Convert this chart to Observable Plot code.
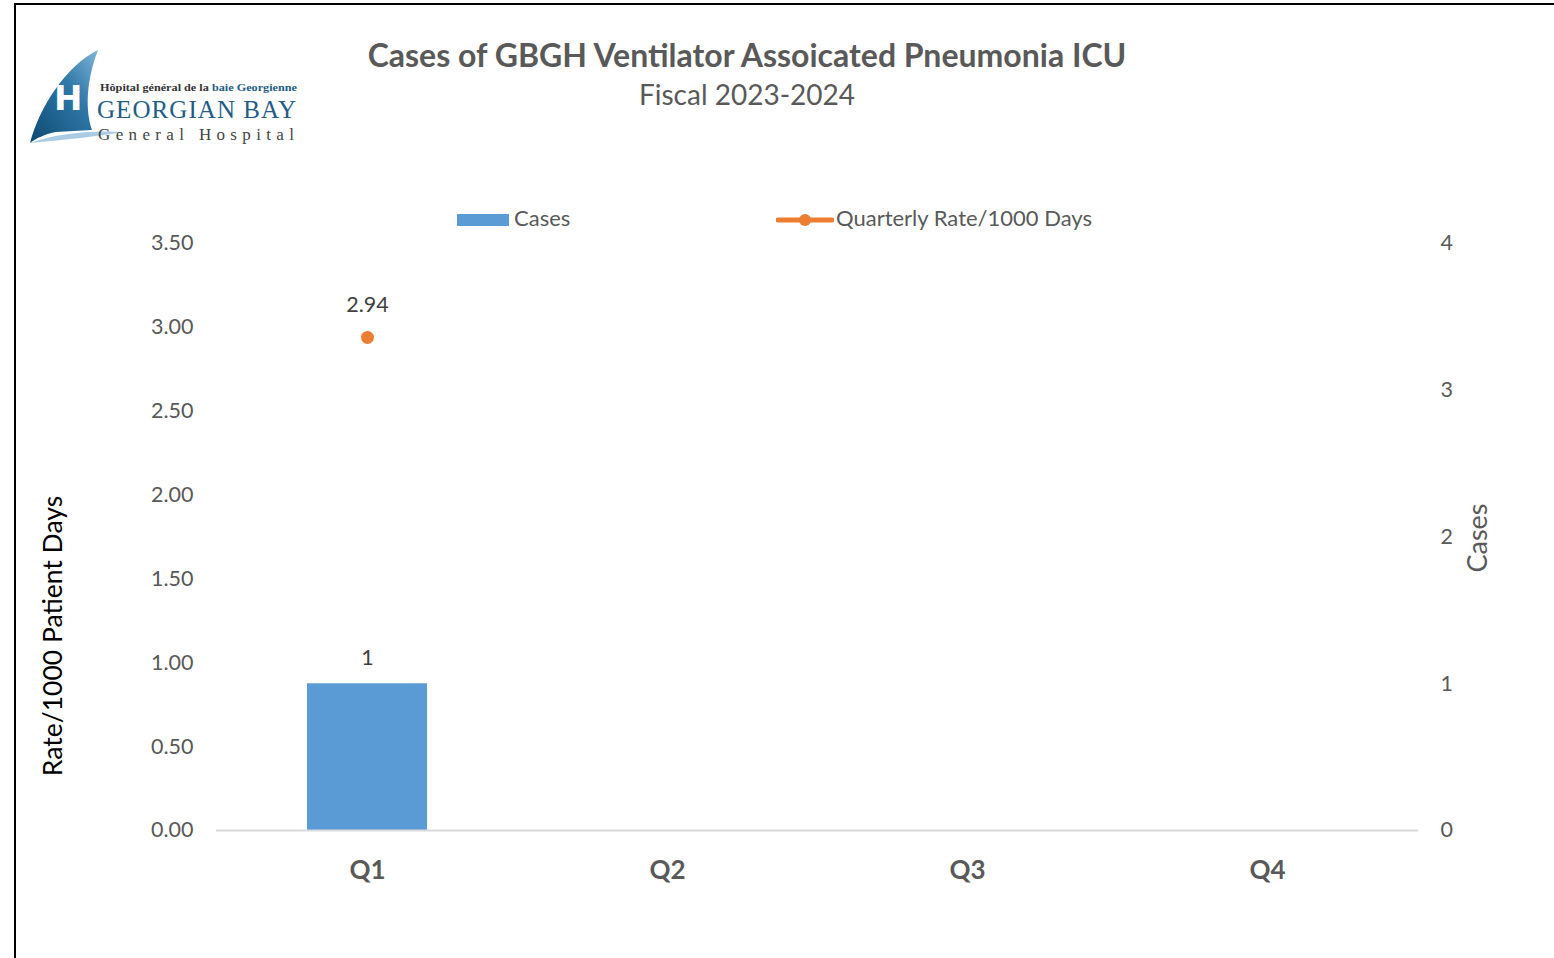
<!DOCTYPE html>
<html>
<head>
<meta charset="utf-8">
<script src="https://cdn.jsdelivr.net/npm/d3@7"></script>
<script src="https://cdn.jsdelivr.net/npm/@observablehq/plot@0.6"></script>
<style>
  html, body { margin: 0; padding: 0; background: #fff; }
  body { width: 1554px; height: 958px; position: relative; overflow: hidden; font-family: Lato, "Open Sans", sans-serif; }
  #frame { position: absolute; left: 14px; top: 3px; width: 1600px; height: 1000px; border-left: 2px solid #000; border-top: 2px solid #000; }
  #title { position: absolute; left: 0; width: 1494px; top: 35px; text-align: center; font-size: 32px; font-weight: 700; color: #595959; }
  #subtitle { position: absolute; left: 0; width: 1494px; top: 77px; text-align: center; font-size: 28px; color: #595959; }
  #logo { position: absolute; left: 26px; top: 46px; }
  .leg { position: absolute; top: 204px; font-size: 22px; color: #595959; white-space: nowrap; }
  #chart { position: absolute; left: 0; top: 180px; }
</style>
</head>
<body>
<div id="frame"></div>
<svg id="logo" width="290" height="105" viewBox="0 0 290 105">
  <defs>
    <linearGradient id="sail" x1="0" y1="1" x2="1" y2="0">
      <stop offset="0" stop-color="#0d4a73"/>
      <stop offset="0.6" stop-color="#2f78a8"/>
      <stop offset="1" stop-color="#7fb6d8"/>
    </linearGradient>
  </defs>
  <path d="M4,97 C14,60 40,20 72,4 C62,30 58,60 66,84 L30,86 C20,88 10,92 4,97 Z" fill="url(#sail)"/>
  <path d="M4,97 C30,88 60,84 100,86 C70,90 40,94 4,97 Z" fill="#a9cbe3"/>
  <text x="28" y="64" font-family="DejaVu Sans" font-weight="bold" font-size="34" fill="#fff">H</text>
  <text x="74" y="45" font-family="Liberation Serif" font-weight="bold" font-size="10.5" fill="#333" textLength="197" lengthAdjust="spacingAndGlyphs">Hôpital général de la <tspan fill="#1f5d88">baie Georgienne</tspan></text>
  <text x="71" y="72" font-family="Liberation Serif" font-size="25" fill="#1f5d88" textLength="199">GEORGIAN BAY</text>
  <text x="72" y="94" font-family="Liberation Serif" font-size="17" fill="#444" textLength="196" lengthAdjust="spacing">General Hospital</text>
</svg>
<div id="title">Cases of GBGH Ventilator Assoicated Pneumonia ICU</div>
<div id="subtitle">Fiscal 2023-2024</div>
<div class="leg" style="left:457px;"><span style="display:inline-block;width:52px;height:12px;background:#5B9BD5;vertical-align:middle;margin-right:5px;"></span>Cases</div>
<div class="leg" style="left:776px;"><svg width="58" height="14" style="vertical-align:middle;margin-right:2px;"><line x1="2" y1="7" x2="56" y2="7" stroke="#ED7D31" stroke-width="5" stroke-linecap="round"/><circle cx="29" cy="7" r="6" fill="#ED7D31"/></svg>Quarterly Rate/1000 Days</div>
<div id="chart"></div>
<script>
const quarters = ["Q1", "Q2", "Q3", "Q4"];
const cases = [1, null, null, null];
const rates = [2.94, null, null, null];
const rateTicks = [0, 0.5, 1, 1.5, 2, 2.5, 3, 3.5];
const caseTicks = [0, 1, 2, 3, 4];
const rateMax = 3.5;
const caseMax = 4;

const k = rateMax / caseMax;
const data = quarters.map((q, i) => ({quarter: q, cases: cases[i], rate: rates[i]}));
const caseData = data.filter(d => d.cases != null);
const rateData = data.filter(d => d.rate != null);

const chart = Plot.plot({
  width: 1554,
  height: 778,
  marginTop: 63,
  marginBottom: 128,
  marginLeft: 216,
  marginRight: 136,
  style: {fontFamily: "Lato, 'Open Sans', sans-serif", fontSize: "21px", color: "#595959", background: "transparent"},
  x: {domain: quarters, paddingInner: 0.6, paddingOuter: 0.3},
  y: {domain: [0, rateMax]},
  marks: [
    Plot.axisY(rateTicks, {anchor: "left", tickSize: 0, tickPadding: 23, tickFormat: d3.format(".2f"), label: null, fontSize: 21.5}),
    Plot.axisY(caseTicks.map(v => v * k), {anchor: "right", tickSize: 0, tickPadding: 22, tickFormat: v => String(Math.round(v / k)), label: null, textAnchor: "start", fontSize: 21.5}),
    Plot.axisX({tickSize: 0, tickPadding: 30, label: null, fontWeight: "bold", fontSize: 26}),
    Plot.barY(caseData, {x: "quarter", y: d => d.cases * k, fill: "#5B9BD5"}),
    Plot.ruleY([0], {stroke: "#d9d9d9", strokeWidth: 2}),
    Plot.text(caseData, {x: "quarter", y: d => d.cases * k, text: d => String(d.cases), dy: -26, fontSize: 21.5, fill: "#404040"}),
    Plot.line(data, {x: "quarter", y: "rate", stroke: "#ED7D31", strokeWidth: 3}),
    Plot.dot(rateData, {x: "quarter", y: "rate", r: 6.5, fill: "#ED7D31"}),
    Plot.text(rateData, {x: "quarter", y: "rate", text: d => d.rate.toFixed(2), dy: -32, fontSize: 21.5, fill: "#404040"}),
    Plot.text(["Rate/1000 Patient Days"], {frameAnchor: "left", textAnchor: "middle", dx: -163, dy: 99, rotate: -90, fontSize: 26.5, fill: "#000"}),
    Plot.text(["Cases"], {frameAnchor: "right", textAnchor: "middle", dx: 60, dy: 1, rotate: -90, fontSize: 27, fill: "#595959"})
  ]
});
document.getElementById("chart").appendChild(chart);
</script>
</body>
</html>
